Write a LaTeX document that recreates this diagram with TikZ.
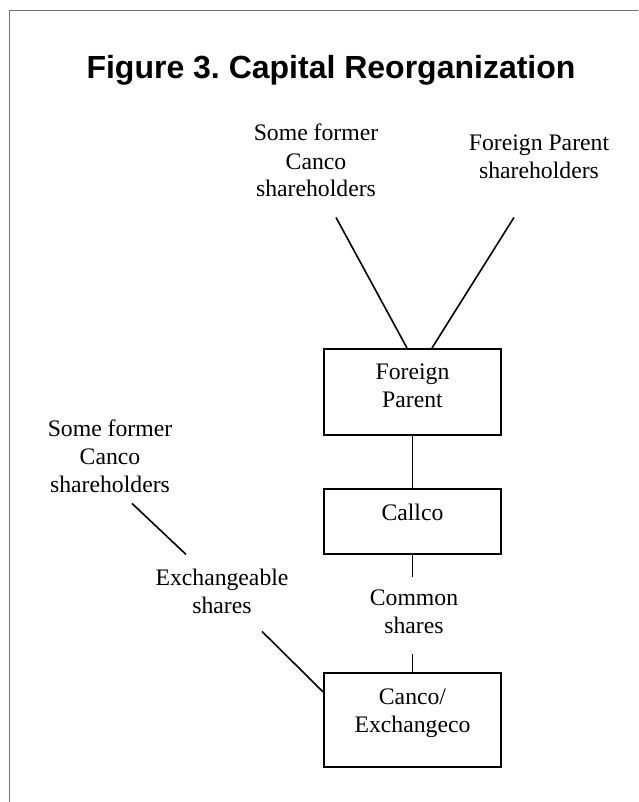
\documentclass[tikz,border=0pt]{standalone}
\usepackage{fontspec}
\setmainfont{Liberation Serif}
\newfontfamily\headfont{Liberation Sans}
\frenchspacing
\begin{document}
\begin{tikzpicture}[x=1pt,y=-1pt,
  every node/.style={font=\fontsize{23.7}{28}\selectfont, inner sep=0pt},
  lbl/.style={align=center, anchor=base},
  entity/.style={draw, line width=1.7pt, minimum width=177pt, anchor=north, align=center},
  link/.style={line width=1.6pt}
]
  \useasboundingbox (0,0) rectangle (638,802);
  \draw[black!55, line width=1.5pt] (9.5,802) -- (9.5,10.5) -- (638,10.5);
  \node[anchor=base, font=\headfont\bfseries\fontsize{32}{38}\selectfont] (title) at (331,79) {Figure 3. Capital Reorganization};
  \node[lbl] (formerTop) at (316,197) {Some former\\Canco\\shareholders};
  \node[lbl] (parentHolders) at (539,179) {Foreign Parent\\shareholders};
  \node[entity, text height=59pt, text depth=27pt] (parent) at (412.5,348) {Foreign\\Parent};
  \node[entity, text height=32pt, text depth=33pt] (callco) at (412.5,488) {Callco};
  \node[entity, text height=60pt, text depth=34pt] (canco) at (412.5,672) {Canco/\\Exchangeco};
  \node[lbl] (formerLeft) at (110,492) {Some former\\Canco\\shareholders};
  \node[lbl] (exch) at (222,613) {Exchangeable\\shares};
  \node[lbl] (common) at (414,633) {Common\\shares};

  \draw[link] (formerTop.south) ++(20,20) -- ([xshift=-5.5pt]parent.north);
  \draw[link] (parentHolders.south) ++(-25,38) -- ([xshift=19.5pt]parent.north);
  \draw[link] (parent) -- (callco);
  \draw[link] (callco.south) -- ++(0,22);
  \draw[link] (canco.north) -- ++(0,-18);
  \draw[link] (formerLeft.south) ++(22,11) -- ++(54,51);
  \draw[link] (exch.south) ++(40,18) -- ([yshift=-20pt]canco.north west);
\end{tikzpicture}
\end{document}
